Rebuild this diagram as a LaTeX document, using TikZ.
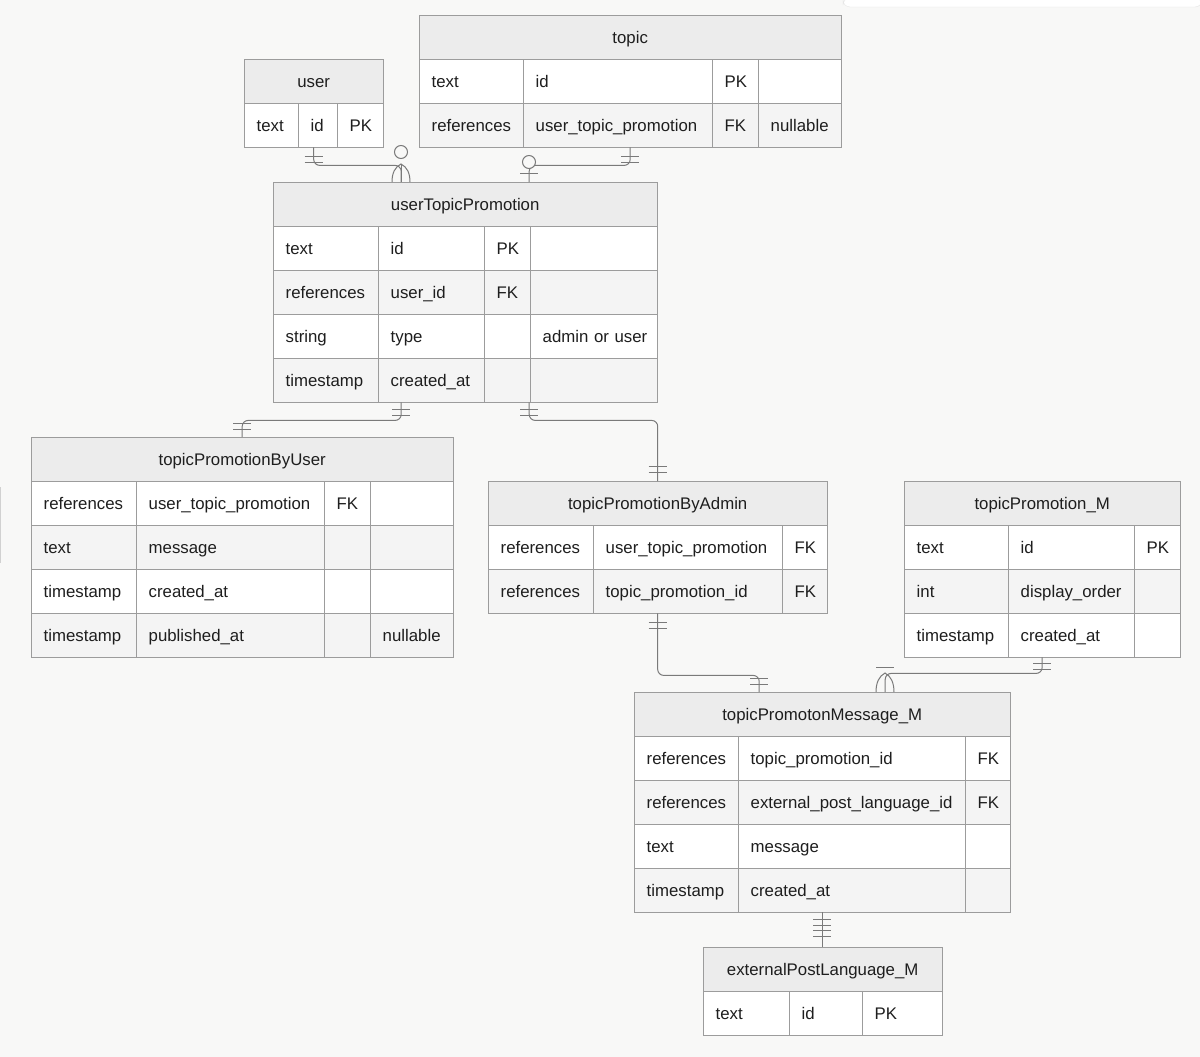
\documentclass[tikz,border=0pt]{standalone}
\usepackage{fontspec}
\setmainfont{Liberation Sans}
\usepackage{tikz}

\definecolor{bg}{HTML}{F8F8F7}
\definecolor{grid}{HTML}{9C9C9C}
\definecolor{hdrfill}{HTML}{ECECEC}
\definecolor{rowgray}{HTML}{F4F4F4}
\definecolor{relgray}{HTML}{7A7A7A}
\definecolor{ink}{HTML}{1E1E1E}

\begin{document}
\begin{tikzpicture}[x=1pt, y=-1pt,
    font=\fontsize{16.8}{20}\selectfont, text=ink,
    hdr/.style={draw=grid, fill=hdrfill, anchor=north west, minimum width=#1, minimum height=44pt, inner sep=0pt, text height=15pt, text depth=3pt},
    cell/.style={draw=grid, anchor=north west, minimum height=44pt, inner xsep=12.5pt, inner ysep=0pt, text width=#1, align=left, text height=15pt, text depth=3pt},
    cellw/.style={cell=#1, fill=white},
    cellg/.style={cell=#1, fill=rowgray},
    rel/.style={draw=relgray, line width=1pt, rounded corners=6pt},
    tick/.style={draw=relgray, line width=1pt}]
    \useasboundingbox (0,0) rectangle (1200,1057);
    \fill[bg] (0,0) rectangle (1200,1057);
    \filldraw[fill=white, draw=black!10, rounded corners=7pt] (843,-2) -- (843,7) -- (1202,7) -- (1202,-2) -- cycle;
    \draw[black!18, line width=1.2pt] (0.6,487) -- (0.6,563);

    % user
    \node[hdr=139pt] (usrH) at (244,59) {user};
    \node[cellw=29pt] (usr11) at (244,103) {text};
    \node[cellw=14pt] (usr12) at (298,103) {id};
    \node[cellw=21pt] (usr13) at (337,103) {PK};

    % topic
    \node[hdr=422pt] (topH) at (419,15) {topic};
    \node[cellw=79pt] (top11) at (419,59) {text};
    \node[cellw=164pt] (top12) at (523,59) {id};
    \node[cellw=21pt] (top13) at (712,59) {PK};
    \node[cellw=58pt] (top14) at (758,59) {};
    \node[cellg=79pt] (top21) at (419,103) {references};
    \node[cellg=164pt] (top22) at (523,103) {user\_topic\_promotion};
    \node[cellg=21pt] (top23) at (712,103) {FK};
    \node[cellg=58pt] (top24) at (758,103) {nullable};

    % userTopicPromotion
    \node[hdr=384pt] (utpH) at (273,182) {userTopicPromotion};
    \node[cellw=80pt] (utp11) at (273,226) {text};
    \node[cellw=81pt] (utp12) at (378,226) {id};
    \node[cellw=21pt] (utp13) at (484,226) {PK};
    \node[cellw=102pt] (utp14) at (530,226) {};
    \node[cellg=80pt] (utp21) at (273,270) {references};
    \node[cellg=81pt] (utp22) at (378,270) {user\_id};
    \node[cellg=21pt] (utp23) at (484,270) {FK};
    \node[cellg=102pt] (utp24) at (530,270) {};
    \node[cellw=80pt] (utp31) at (273,314) {string};
    \node[cellw=81pt] (utp32) at (378,314) {type};
    \node[cellw=21pt] (utp33) at (484,314) {};
    \node[cellw=102pt] (utp34) at (530,314) {\mbox{admin or user}};
    \node[cellg=80pt] (utp41) at (273,358) {timestamp};
    \node[cellg=81pt] (utp42) at (378,358) {created\_at};
    \node[cellg=21pt] (utp43) at (484,358) {};
    \node[cellg=102pt] (utp44) at (530,358) {};

    % topicPromotionByUser
    \node[hdr=422pt] (tpuH) at (31,437) {topicPromotionByUser};
    \node[cellw=80pt] (tpu11) at (31,481) {references};
    \node[cellw=163pt] (tpu12) at (136,481) {user\_topic\_promotion};
    \node[cellw=21pt] (tpu13) at (324,481) {FK};
    \node[cellw=58pt] (tpu14) at (370,481) {};
    \node[cellg=80pt] (tpu21) at (31,525) {text};
    \node[cellg=163pt] (tpu22) at (136,525) {message};
    \node[cellg=21pt] (tpu23) at (324,525) {};
    \node[cellg=58pt] (tpu24) at (370,525) {};
    \node[cellw=80pt] (tpu31) at (31,569) {timestamp};
    \node[cellw=163pt] (tpu32) at (136,569) {created\_at};
    \node[cellw=21pt] (tpu33) at (324,569) {};
    \node[cellw=58pt] (tpu34) at (370,569) {};
    \node[cellg=80pt] (tpu41) at (31,613) {timestamp};
    \node[cellg=163pt] (tpu42) at (136,613) {published\_at};
    \node[cellg=21pt] (tpu43) at (324,613) {};
    \node[cellg=58pt] (tpu44) at (370,613) {nullable};

    % topicPromotionByAdmin
    \node[hdr=339pt] (tpaH) at (488,481) {topicPromotionByAdmin};
    \node[cellw=80pt] (tpa11) at (488,525) {references};
    \node[cellw=164pt] (tpa12) at (593,525) {user\_topic\_promotion};
    \node[cellw=20pt] (tpa13) at (782,525) {FK};
    \node[cellg=80pt] (tpa21) at (488,569) {references};
    \node[cellg=164pt] (tpa22) at (593,569) {topic\_promotion\_id};
    \node[cellg=20pt] (tpa23) at (782,569) {FK};

    % topicPromotion_M
    \node[hdr=276pt] (tpmH) at (904,481) {topicPromotion\_M};
    \node[cellw=79pt] (tpm11) at (904,525) {text};
    \node[cellw=101pt] (tpm12) at (1008,525) {id};
    \node[cellw=21pt] (tpm13) at (1134,525) {PK};
    \node[cellg=79pt] (tpm21) at (904,569) {int};
    \node[cellg=101pt] (tpm22) at (1008,569) {display\_order};
    \node[cellg=21pt] (tpm23) at (1134,569) {};
    \node[cellw=79pt] (tpm31) at (904,613) {timestamp};
    \node[cellw=101pt] (tpm32) at (1008,613) {created\_at};
    \node[cellw=21pt] (tpm33) at (1134,613) {};

    % topicPromotonMessage_M
    \node[hdr=376pt] (msgH) at (634,692) {topicPromotonMessage\_M};
    \node[cellw=79pt] (msg11) at (634,736) {references};
    \node[cellw=202pt] (msg12) at (738,736) {topic\_promotion\_id};
    \node[cellw=20pt] (msg13) at (965,736) {FK};
    \node[cellg=79pt] (msg21) at (634,780) {references};
    \node[cellg=202pt] (msg22) at (738,780) {external\_post\_language\_id};
    \node[cellg=20pt] (msg23) at (965,780) {FK};
    \node[cellw=79pt] (msg31) at (634,824) {text};
    \node[cellw=202pt] (msg32) at (738,824) {message};
    \node[cellw=20pt] (msg33) at (965,824) {};
    \node[cellg=79pt] (msg41) at (634,868) {timestamp};
    \node[cellg=202pt] (msg42) at (738,868) {created\_at};
    \node[cellg=20pt] (msg43) at (965,868) {};

    % externalPostLanguage_M
    \node[hdr=239pt] (eplH) at (703,947) {externalPostLanguage\_M};
    \node[cellw=61pt] (epl11) at (703,991) {text};
    \node[cellw=48pt] (epl12) at (789,991) {id};
    \node[cellw=55pt] (epl13) at (862,991) {PK};

    % relations
    \draw[rel] (usrH.north |- usr13.south) -- ++(0,18) -| ([xshift=-64pt]utpH.north);
    \draw[rel] (topH.north |- top24.south) -- ++(0,18) -| ([xshift=64pt]utpH.north);
    \draw[rel] ([xshift=-64pt]utpH.north |- utp44.south) -- ++(0,18) -| (tpuH.north);
    \draw[rel] ([xshift=64pt]utpH.north |- utp44.south) -- ++(0,18) -| (tpaH.north);
    \draw[rel] (tpaH.north |- tpa23.south) -- ++(0,62) -| ([xshift=-63pt]msgH.north);
    \draw[rel] (tpmH.north |- tpm33.south) -- ++(0,16) -| ([xshift=63pt]msgH.north);
    \draw[rel] (msgH.north |- msg43.south) -- (msgH.north |- eplH.north);

    % cardinality marks
    \draw[tick] (304.5,156) -- ++(18,0) (304.5,162) -- ++(18,0);
    \draw[tick] (621,156) -- ++(18,0) (621,162) -- ++(18,0);
    \draw[tick] (392,409) -- ++(18,0) (392,415) -- ++(18,0);
    \draw[tick] (233,423) -- ++(18,0) (233,429) -- ++(18,0);
    \draw[tick] (520,409) -- ++(18,0) (520,415) -- ++(18,0);
    \draw[tick] (648.5,466) -- ++(18,0) (648.5,472) -- ++(18,0);
    \draw[tick] (648.5,622) -- ++(18,0) (648.5,628) -- ++(18,0);
    \draw[tick] (750,678) -- ++(18,0) (750,684) -- ++(18,0);
    \draw[tick] (1033,663) -- ++(18,0) (1033,669) -- ++(18,0);
    \draw[tick] (813,919) -- ++(18,0) (813,925) -- ++(18,0) (813,930) -- ++(18,0) (813,936) -- ++(18,0);
    % zero or more
    \filldraw[tick, fill=bg] (401,152) circle[radius=6.5];
    \draw[tick] (392,182) .. controls (392,173) and (395,167) .. (401,164) .. controls (407,167) and (410,173) .. (410,182);
    \draw[tick] (401,164) -- (401,182);
    % zero or one
    \filldraw[tick, fill=bg] (529,162) circle[radius=6.5];
    \draw[tick] (520,173) -- ++(18,0);
    % one or more
    \draw[tick] (876,667) -- ++(18,0);
    \draw[tick] (876,692) .. controls (876,683) and (879,676) .. (885,673) .. controls (891,676) and (894,683) .. (894,692);
\end{tikzpicture}
\end{document}
